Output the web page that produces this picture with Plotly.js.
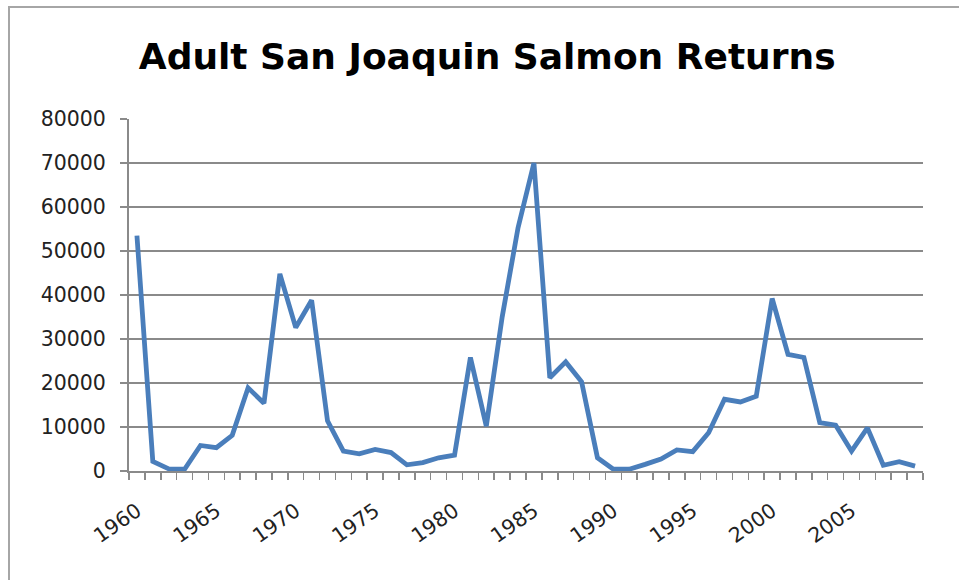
<!DOCTYPE html>
<html>
<head>
<meta charset="utf-8">
<script src="https://cdn.plot.ly/plotly-3.0.1.min.js"></script>
<style>html,body{margin:0;padding:0;background:#fff}#chart{width:959px;height:580px}</style>
</head>
<body>
<div id="chart"></div>
<script>
var years = [1960,1961,1962,1963,1964,1965,1966,1967,1968,1969,
             1970,1971,1972,1973,1974,1975,1976,1977,1978,1979,
             1980,1981,1982,1983,1984,1985,1986,1987,1988,1989,
             1990,1991,1992,1993,1994,1995,1996,1997,1998,1999,
             2000,2001,2002,2003,2004,2005,2006,2007,2008,2009];
var returns = [53500,2200,500,400,5800,5300,8100,18900,15400,44800,
               32600,38800,11400,4500,3900,4900,4200,1400,1900,3000,
               3600,25800,10200,35000,55300,70000,21200,24800,20300,3000,
               400,400,1500,2700,4800,4400,8700,16300,15700,17000,
               39200,26500,25800,11000,10400,4500,9800,1300,2100,1100];
var labelYears = [1960,1965,1970,1975,1980,1985,1990,1995,2000,2005];
var yTicks = [0,10000,20000,30000,40000,50000,60000,70000,80000];
var titleText = "Adult San Joaquin Salmon Returns";

var gray = "#8a8a8a";
var trace = {
  x: years, y: returns, type: "scatter", mode: "lines",
  line: {color: "#4a7ebb", width: 4.8},
  hoverinfo: "x+y"
};
var layout = {
  width: 959, height: 580,
  margin: {l: 129, r: 36, t: 119, b: 109},
  paper_bgcolor: "#fff", plot_bgcolor: "#fff",
  showlegend: false,
  title: {
    text: titleText,
    font: {family: "'DejaVu Sans', sans-serif", size: 36, color: "#000", weight: "bold"},
    xref: "container", x: 0.508, xanchor: "center",
    yref: "container", y: 0.903, yanchor: "middle"
  },
  xaxis: {
    range: [1959.5, 2009.5],
    tickmode: "array", tickvals: labelYears, ticktext: labelYears.map(String),
    ticks: "outside", ticklen: 0, tickangle: -35,
    ticklabelstandoff: 18,
    tickfont: {family: "'DejaVu Sans', sans-serif", size: 20.5, color: "#222"},
    showgrid: false, zeroline: false,
    showline: true, linecolor: gray, linewidth: 2,
    minor: {tickmode: "linear", tick0: 1959.5, dtick: 1, ticks: "outside", ticklen: 7, tickcolor: gray, tickwidth: 1.5, showgrid: false},
    fixedrange: true
  },
  yaxis: {
    range: [0, 80000],
    tickmode: "array", tickvals: yTicks, ticktext: yTicks.map(String),
    ticks: "outside", ticklen: 7, tickcolor: gray, tickwidth: 1.5,
    ticklabelstandoff: 10,
    tickfont: {family: "'DejaVu Sans', sans-serif", size: 20.5, color: "#222"},
    showgrid: true, gridcolor: gray, gridwidth: 1.5,
    zeroline: false, showline: true, linecolor: gray, linewidth: 2,
    fixedrange: true
  },
  shapes: [{
    type: "rect", xref: "paper", yref: "paper",
    x0: (9 - 129) / 794, x1: 1.2, y0: -0.5, y1: (471 - 7) / 352,
    line: {color: "#a6a6a6", width: 2}, fillcolor: "rgba(0,0,0,0)", layer: "below"
  }]
};
Plotly.newPlot("chart", [trace], layout, {displayModeBar: false, staticPlot: true});
</script>
</body>
</html>
